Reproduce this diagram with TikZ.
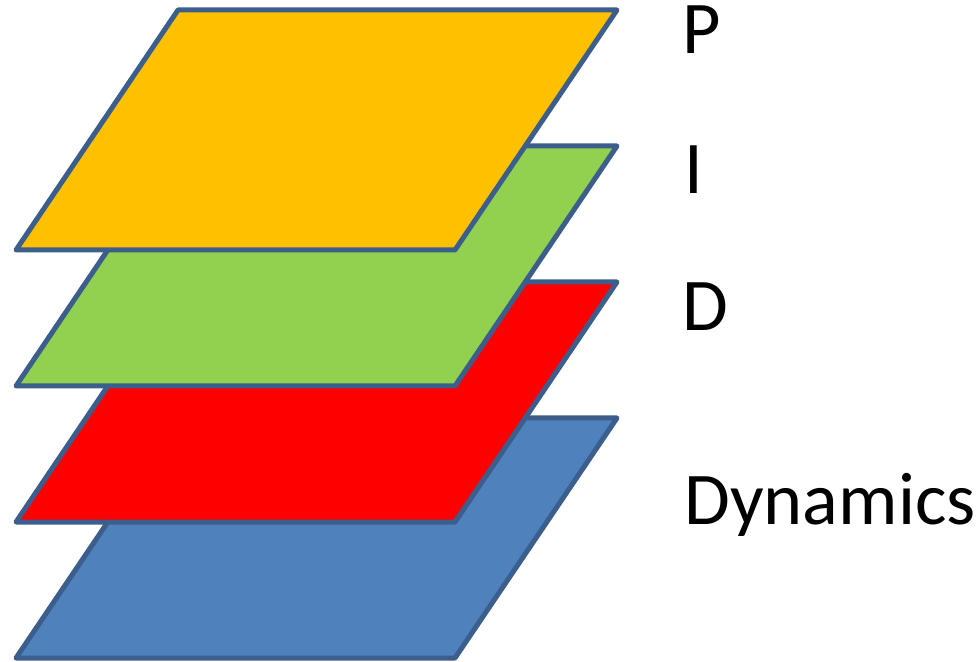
\documentclass[tikz,border=0pt]{standalone}
\usepackage{fontspec}
\setmainfont{Carlito}
\definecolor{bord}{HTML}{3B5E8C}
\definecolor{orangeP}{HTML}{FFC000}
\definecolor{vertI}{HTML}{92D050}
\definecolor{rougeD}{HTML}{FF0000}
\definecolor{bleuDyn}{HTML}{4F81BD}
\begin{document}
\begin{tikzpicture}[
    x=0.5pt, y=-0.5pt,
    plaque/.style={draw=bord, line width=2.5pt, line join=round},
    etiquette/.style={anchor=base west, inner sep=0pt, font=\fontsize{37.2}{41}\selectfont}
]

% Cadre de l'image
\useasboundingbox (0,0) rectangle (980,662);

% Plaques, de bas en haut
\filldraw[plaque, fill=bleuDyn] (16,658) -- (178,418) -- (617,418) -- (455,658) -- cycle;
\filldraw[plaque, fill=rougeD] (16,522) -- (178,282) -- (617,282) -- (455,522) -- cycle;
\filldraw[plaque, fill=vertI] (16,386) -- (178,146) -- (617,146) -- (455,386) -- cycle;
\filldraw[plaque, fill=orangeP] (16,250) -- (178,10) -- (617,10) -- (455,250) -- cycle;

% Etiquettes des couches
\node[etiquette] (p) at (682,54) {P};
\node[etiquette] (i) at (684,194) {I};
\node[etiquette] (d) at (682,331) {D};
\node[etiquette] (dyn) at (684,524) {Dynamics};

\end{tikzpicture}
\end{document}
